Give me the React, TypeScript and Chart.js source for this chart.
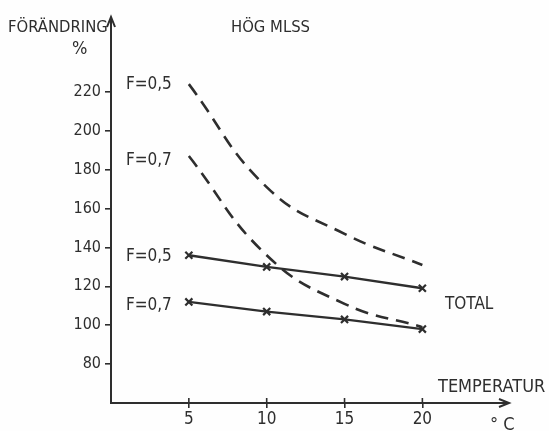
import React, { useEffect, useRef } from "react";
import { Chart, registerables } from "chart.js";

Chart.register(...registerables);

const temps = [5, 10, 15, 20];
const dashedF05 = [224, 171, 147, 131];
const dashedF07 = [187, 136, 111, 99];
const totalF05 = [136, 130, 125, 119];
const totalF07 = [112, 107, 103, 98];
const yTickValues = [80, 100, 120, 140, 160, 180, 200, 220];
const xTickValues = [5, 10, 15, 20];

const INK = "#2e2e2e";
const FONT = "'DejaVu Sans Condensed', 'DejaVu Sans', sans-serif";

const toPts = (ys: number[]) => temps.map((t, i) => ({ x: t, y: ys[i] }));

const annotate = {
  id: "annotate",
  afterDraw(chart: any) {
    const { ctx, chartArea } = chart;
    const xs = chart.scales.x;
    const ys = chart.scales.y;
    ctx.save();
    ctx.strokeStyle = INK;
    ctx.fillStyle = INK;
    ctx.lineWidth = 2;
    // y arrow
    const ax = chartArea.left;
    ctx.beginPath();
    ctx.moveTo(ax - 4, chartArea.top + 9);
    ctx.lineTo(ax, chartArea.top - 1);
    ctx.lineTo(ax + 4, chartArea.top + 9);
    ctx.stroke();
    // x arrow
    const ay = chartArea.bottom;
    ctx.beginPath();
    ctx.moveTo(chartArea.right - 9, ay - 4);
    ctx.lineTo(chartArea.right + 1, ay);
    ctx.lineTo(chartArea.right - 9, ay + 4);
    ctx.stroke();
    // x tick marks crossing above the axis
    ctx.lineWidth = 1.6;
    xTickValues.forEach((v) => {
      const px = xs.getPixelForValue(v);
      ctx.beginPath();
      ctx.moveTo(px, ay - 5);
      ctx.lineTo(px, ay);
      ctx.stroke();
    });

    ctx.textBaseline = "alphabetic";
    ctx.textAlign = "left";
    ctx.font = `16.5px ${FONT}`;
    ctx.fillText("FÖRÄNDRING", 8, 32);
    ctx.fillText("HÖG MLSS", 231, 32);
    ctx.font = `18px ${FONT}`;
    ctx.fillText("%", 72, 54);
    ctx.fillText("TEMPERATUR", 438, 392);
    ctx.fillText("° C", 490, 430);
    ctx.font = `17px ${FONT}`;
    ctx.fillText("TOTAL", 445, 309);

    // series labels, anchored to the first point of each series
    const lbl = (txt: string, val: number, dy: number) => {
      ctx.textAlign = "right";
      ctx.fillText(txt, xs.getPixelForValue(temps[0]) - 17, ys.getPixelForValue(val) + dy);
    };
    lbl("F=0,5", dashedF05[0], 5);
    lbl("F=0,7", dashedF07[0], 9);
    lbl("F=0,5", totalF05[0], 6);
    lbl("F=0,7", totalF07[0], 8);
    ctx.restore();
  },
};

export default function App() {
  const ref = useRef<HTMLCanvasElement | null>(null);
  useEffect(() => {
    if (!ref.current) return;
    const dashedStyle = {
      borderColor: INK,
      borderWidth: 2.6,
      borderDash: [13, 8],
      pointRadius: 0,
      tension: 0.45,
      fill: false,
    };
    const solidStyle = {
      borderColor: INK,
      borderWidth: 2.4,
      pointStyle: "crossRot" as const,
      pointRadius: 5,
      pointBorderWidth: 2.2,
      pointBorderColor: INK,
      tension: 0,
      fill: false,
    };
    const chart = new Chart(ref.current, {
      type: "line",
      data: {
        datasets: [
          { label: "F=0,5 dashed", data: toPts(dashedF05), ...dashedStyle },
          { label: "F=0,7 dashed", data: toPts(dashedF07), ...dashedStyle },
          { label: "F=0,5 total", data: toPts(totalF05), ...solidStyle },
          { label: "F=0,7 total", data: toPts(totalF07), ...solidStyle },
        ],
      },
      options: {
        animation: false,
        responsive: false,
        maintainAspectRatio: false,
        layout: { padding: { top: 18, right: 41, left: 0, bottom: 0 } },
        plugins: { legend: { display: false }, tooltip: { enabled: false }, title: { display: false } },
        scales: {
          x: {
            type: "linear",
            min: 0,
            max: 25.5,
            afterBuildTicks: (s: any) => {
              s.ticks = xTickValues.map((v) => ({ value: v }));
            },
            afterFit: (s: any) => {
              s.height = 28;
            },
            border: { display: true, color: INK, width: 2 },
            grid: { drawOnChartArea: false, drawTicks: true, tickLength: 5, color: INK, lineWidth: 1.6 },
            ticks: { color: INK, font: { family: FONT, size: 17 }, padding: 1 },
          },
          y: {
            type: "linear",
            min: 60,
            max: 258,
            afterBuildTicks: (s: any) => {
              s.ticks = yTickValues.map((v) => ({ value: v }));
            },
            afterFit: (s: any) => {
              s.width = 111;
            },
            border: { display: true, color: INK, width: 2 },
            grid: { drawOnChartArea: false, drawTicks: true, tickLength: 6, color: INK, lineWidth: 1.6 },
            ticks: { color: INK, font: { family: FONT, size: 16 }, padding: 4 },
          },
        },
      },
      plugins: [annotate],
    });
    return () => chart.destroy();
  }, []);
  return (
    <div style={{ position: "fixed", left: 0, top: 0, width: 549, height: 431, background: "#fefefe" }}>
      <canvas ref={ref} width={549} height={431} style={{ width: 549, height: 431, display: "block" }} />
    </div>
  );
}
